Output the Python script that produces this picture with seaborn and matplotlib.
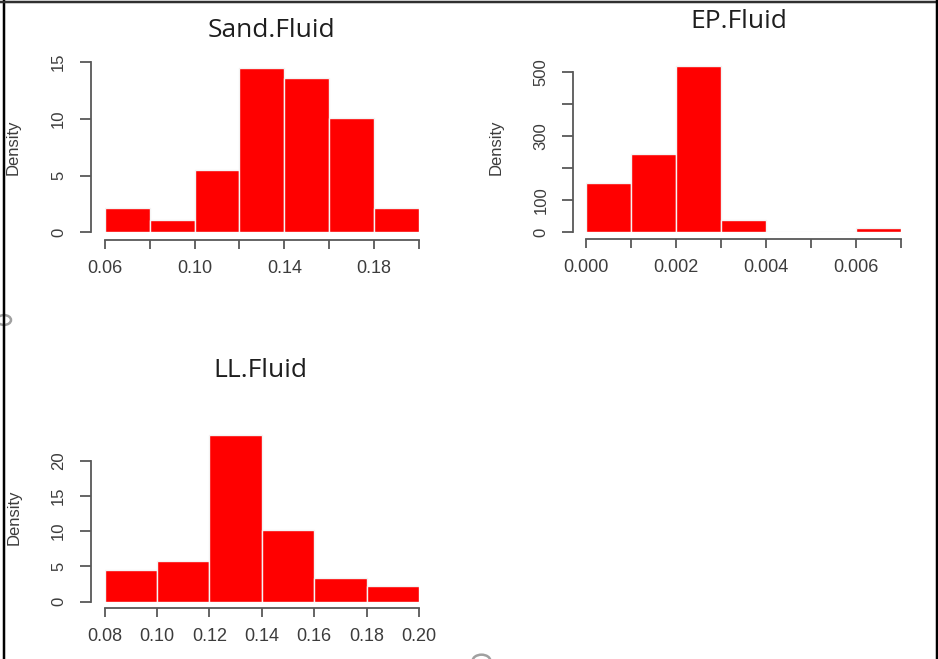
import numpy as np
import matplotlib
matplotlib.use("Agg")
import matplotlib.pyplot as plt
from matplotlib import font_manager
from matplotlib.lines import Line2D
from matplotlib.patches import Circle
import seaborn as sns

# ---------------- data ----------------
sand_edges = [0.06, 0.08, 0.10, 0.12, 0.14, 0.16, 0.18, 0.20]
sand_density = [2.17, 1.05, 5.52, 14.45, 13.57, 10.1, 2.17]
sand_xticks = [0.06, 0.08, 0.10, 0.12, 0.14, 0.16, 0.18, 0.20]
sand_xlabels = ["0.06", "", "0.10", "", "0.14", "", "0.18", ""]
sand_yticks = [0, 5, 10, 15]
sand_ylabels = ["0", "5", "10", "15"]

ep_edges = [0.000, 0.001, 0.002, 0.003, 0.004, 0.005, 0.006, 0.007]
ep_density = [155, 246, 519, 39, 0, 0, 15.6]
ep_xticks = [0.000, 0.001, 0.002, 0.003, 0.004, 0.005, 0.006, 0.007]
ep_xlabels = ["0.000", "", "0.002", "", "0.004", "", "0.006", ""]
ep_yticks = [0, 100, 200, 300, 400, 500]
ep_ylabels = ["0", "100", "", "300", "", "500"]

ll_edges = [0.08, 0.10, 0.12, 0.14, 0.16, 0.18, 0.20]
ll_density = [4.45, 5.73, 23.7, 10.2, 3.3, 2.27]
ll_xticks = [0.08, 0.10, 0.12, 0.14, 0.16, 0.18, 0.20]
ll_xlabels = ["0.08", "0.10", "0.12", "0.14", "0.16", "0.18", "0.20"]
ll_yticks = [0, 5, 10, 15, 20]
ll_ylabels = ["0", "5", "10", "15", "20"]

titles = ["Sand.Fluid", "EP.Fluid", "LL.Fluid"]

# ---------------- style ----------------
sns.set_style("ticks")
plt.rcParams["font.family"] = ["Liberation Sans", "DejaVu Sans"]

names = {f.name for f in font_manager.fontManager.ttflist}
if "Liberation Sans Narrow" in names:
    YFONT, YSIZE = "Liberation Sans Narrow", 14
else:
    YFONT, YSIZE = "Liberation Sans", 12

W, H = 938, 659
DPI = 100
fig = plt.figure(figsize=(W / DPI, H / DPI), dpi=DPI)
fig.patch.set_facecolor("white")

PX = 72.0 / DPI  # points per pixel
AXC = "#585858"
LBC = "#3c3c3c"


def add_panel(x0, x1, xlo, xhi, y0, yunit, ymax, edges, dens, xticks, xlabels,
              yticks, ylabels, left_off, bottom_off, title, tx, ty, dx, dy):
    # axes box: data (xlo..xhi) spans px x0..x1; y 0..ymax from px y0 upward
    y1 = y0 - ymax * yunit
    ax = fig.add_axes([x0 / W, 1 - y0 / H, (x1 - x0) / W, (y0 - y1) / H])
    ax.set_facecolor("none")
    mids = [(a + b) / 2 for a, b in zip(edges[:-1], edges[1:])]
    sns.histplot(x=mids, weights=dens, bins=edges, stat="count", ax=ax,
                 color="#ff0000", alpha=1, edgecolor="#f4f4f4", linewidth=1.0)
    ax.set_xlim(xlo, xhi)
    ax.set_ylim(0, ymax)
    ax.set_xlabel("")
    ax.set_ylabel("")
    for s in ("top", "right"):
        ax.spines[s].set_visible(False)
    ax.spines["left"].set_position(("outward", left_off * PX))
    ax.spines["bottom"].set_position(("outward", bottom_off * PX))
    ax.spines["left"].set_bounds(yticks[0], yticks[-1])
    ax.spines["bottom"].set_bounds(xticks[0], xticks[-1])
    for s in ("left", "bottom"):
        ax.spines[s].set_color(AXC)
        ax.spines[s].set_linewidth(1.3)
    ax.set_xticks(xticks)
    ax.set_xticklabels(xlabels, fontsize=13, color=LBC,
                       family=["Liberation Sans", "DejaVu Sans"])
    ax.set_yticks(yticks)
    ax.set_yticklabels(ylabels, fontsize=YSIZE, color=LBC, rotation=90,
                       va="center", family=[YFONT, "DejaVu Sans"])
    ax.tick_params(axis="x", length=9 * PX, width=1.3, color=AXC, pad=11 * PX)
    ax.tick_params(axis="y", length=11.5 * PX, width=1.3, color=AXC, pad=13 * PX)
    fig.text(tx / W, 1 - ty / H, title, ha="center", va="baseline",
             fontsize=19, color="#1e1e1e", family=["Open Sans", "DejaVu Sans"])
    fig.text(dx / W, 1 - dy / H, "Density", rotation=90, ha="center",
             va="center", fontsize=12, color=LBC,
             family=["Liberation Sans", "DejaVu Sans"])
    return ax


add_panel(104.7, 419.0, 0.06, 0.20, 232.3, 11.35, 15.2,
          sand_edges, sand_density, sand_xticks, sand_xlabels,
          sand_yticks, sand_ylabels, 14, 7.7, titles[0], 271.7, 36.7, 13, 147.5)

add_panel(586.0, 901.0, 0.0, 0.007, 232.5, 0.32, 540,
          ep_edges, ep_density, ep_xticks, ep_xlabels,
          ep_yticks, ep_ylabels, 13, 6.8, titles[1], 739, 28.3, 496, 147.5)

add_panel(104.7, 419.0, 0.08, 0.20, 601.7, 7.05, 25,
          ll_edges, ll_density, ll_xticks, ll_xlabels,
          ll_yticks, ll_ylabels, 14, 6.6, titles[2], 260.3, 376.7, 14, 517.5)

# screenshot frame
def fline(xs, ys, color, lw):
    fig.add_artist(Line2D([x / W for x in xs], [1 - y / H for y in ys],
                          transform=fig.transFigure, color=color, lw=lw * PX))

fline([3.5, 3.5], [0, H], "black", 2.5)
fline([0, W], [1.5, 1.5], "#303030", 2.5)
fline([936.5, 936.5], [0, H], "black", 2.5)

# resize handles (screenshot artifacts)
for cx, cy, r in [(4, 320, 7), (481.5, 661, 9)]:
    fig.add_artist(Circle((cx / W, 1 - cy / H), r / W, transform=fig.transFigure,
                          fill=False, edgecolor="#a0a0a0", lw=2.5 * PX))

fig.savefig("out.png", dpi=DPI, facecolor="white")
